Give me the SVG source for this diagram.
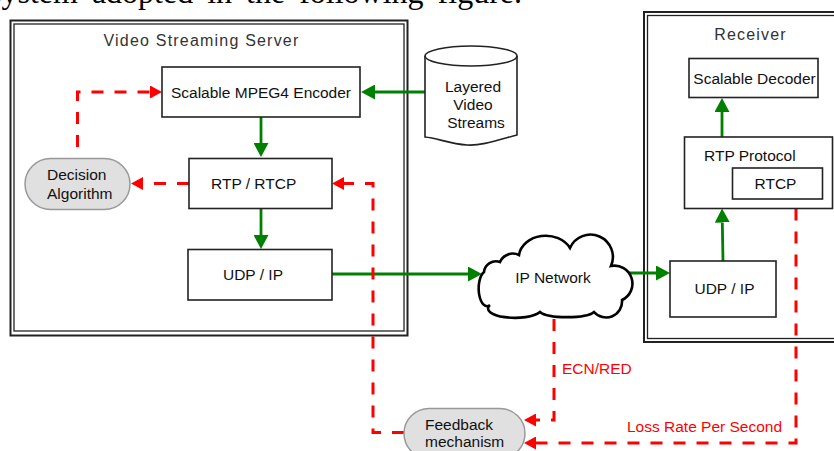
<svg xmlns="http://www.w3.org/2000/svg" width="834" height="451" viewBox="0 0 834 451">
<defs>
<marker id="ga" markerUnits="userSpaceOnUse" markerWidth="15" markerHeight="15" refX="0" refY="7.5" orient="auto"><path d="M0,0 L14,7.5 L0,15 Z" fill="#008000"/></marker>
<marker id="ra" markerUnits="userSpaceOnUse" markerWidth="13" markerHeight="13" refX="0" refY="6.5" orient="auto"><path d="M0,0 L12,6.5 L0,13 Z" fill="#ff0000"/></marker>
</defs>
<style>
.box{fill:#fff;stroke:#222;stroke-width:1.6}
.frameo{fill:none;stroke:#222;stroke-width:2}
.framei{fill:none;stroke:#222;stroke-width:1.3}
.pill{fill:#e0e0e0;stroke:#999;stroke-width:1.5}
.t{font-family:"Liberation Sans",Arial,sans-serif;font-size:15.5px;fill:#111}
.title{font-family:"Liberation Sans",Arial,sans-serif;font-size:16px;letter-spacing:1.2px;fill:#333}
.red{font-family:"Liberation Sans",Arial,sans-serif;font-size:15.5px;fill:#ff0000}
.serif{font-family:"Liberation Serif","Times New Roman",serif;font-size:32px;word-spacing:6px;fill:#000}
.g{stroke:#008000;stroke-width:2.8;fill:none}
.r{stroke:#ff0000;stroke-width:3;fill:none;stroke-dasharray:12 11}
</style>
<rect width="834" height="451" fill="#fff"/>
<text class="serif" x="-11" y="3">system adopted in the following figure.</text>

<g id="server">
<rect class="frameo" x="10.5" y="20.5" width="397" height="315"/>
<rect class="framei" x="14" y="24" width="390" height="307"/>
<text class="title" x="201.5" y="46" text-anchor="middle">Video Streaming Server</text>
</g>
<g id="receiver">
<rect class="frameo" x="644" y="12" width="220" height="330"/>
<rect class="framei" x="647.5" y="15.5" width="220" height="323"/>
<text class="title" x="750.5" y="40" text-anchor="middle">Receiver</text>
</g>

<g id="connectors">
<path class="g" d="M425,92 H375" marker-end="url(#ga)"/>
<path class="g" d="M261,117 V143" marker-end="url(#ga)"/>
<path class="g" d="M261,208 V235" marker-end="url(#ga)"/>
<path class="g" d="M332,274 H468" marker-end="url(#ga)"/>
<path class="g" d="M613,273 H656" marker-end="url(#ga)"/>
<path class="g" d="M723,261 L722.3,222.5" marker-end="url(#ga)"/>
<path class="g" d="M722,137 V112" marker-end="url(#ga)"/>
<path class="r" d="M189,183.5 H143" marker-end="url(#ra)"/>
<path class="r" d="M77.5,147 V92 H150" marker-end="url(#ra)"/>
<path class="r" d="M404,432.5 H373 V183.5 H344" marker-end="url(#ra)"/>
<path class="r" d="M554,319 V420 H536" marker-end="url(#ra)"/>
<path class="r" d="M796,208.5 V443 H536" marker-end="url(#ra)"/>
</g>

<g id="encoder">
<rect class="box" x="162" y="67" width="198" height="50"/>
<text class="t" x="261" y="98" text-anchor="middle">Scalable MPEG4 Encoder</text>
</g>
<g id="rtp-rtcp">
<rect class="box" x="189" y="158.5" width="143" height="50"/>
<text class="t" x="211" y="188.5">RTP / RTCP</text>
</g>
<g id="udp-ip-server">
<rect class="box" x="188" y="249.5" width="144" height="50.5"/>
<text class="t" x="253" y="280" text-anchor="middle">UDP / IP</text>
</g>
<g id="layered-video-streams">
<path d="M425,56 A46,10 0 0 1 517,56 V135 C495,141 480,146 467,145 C450,144 437,138 425,137 Z" fill="#fff" stroke="#222" stroke-width="1.6"/>
<path d="M425,56 A46,10 0 0 0 517,56" fill="none" stroke="#222" stroke-width="1.6"/>
<text class="t" x="473" y="91.5" text-anchor="middle">Layered</text>
<text class="t" x="473" y="109.5" text-anchor="middle">Video</text>
<text class="t" x="476" y="127.5" text-anchor="middle">Streams</text>
</g>
<g id="decision-algorithm">
<rect class="pill" x="25" y="158.5" width="105" height="51" rx="25.5"/>
<text class="t" x="47" y="180">Decision</text>
<text class="t" x="47" y="198.5">Algorithm</text>
</g>
<g id="ip-network">
<path d="M484,272 A12,12 0 0 1 500,262 A14,14 0 0 1 519,255 A27,22 0 0 1 570,248 A22,22 0 0 1 611,266 A18,18 0 0 1 622,300 A16,16 0 0 1 594,312 A28,7 0 0 1 540,312 A26,9 0 0 1 490,305 A8,17 0 0 1 484,272 Z" fill="#fff" stroke="#000" stroke-width="2.6"/>
<text class="t" x="553" y="283" text-anchor="middle">IP Network</text>
</g>
<g id="scalable-decoder">
<rect class="box" x="689" y="58.5" width="129" height="39"/>
<text class="t" x="754.5" y="83.5" text-anchor="middle">Scalable Decoder</text>
</g>
<g id="rtp-protocol">
<rect class="box" x="684.5" y="137" width="148" height="71.5"/>
<text class="t" x="704" y="160.5">RTP Protocol</text>
</g>
<g id="rtcp">
<rect class="box" x="732.5" y="168" width="90" height="31"/>
<text class="t" x="775.5" y="188.5" text-anchor="middle">RTCP</text>
</g>
<g id="udp-ip-receiver">
<rect class="box" x="670" y="261" width="106" height="56"/>
<text class="t" x="724.5" y="294" text-anchor="middle">UDP / IP</text>
</g>
<g id="feedback-mechanism">
<rect class="pill" x="404" y="408.5" width="121" height="50" rx="25"/>
<text class="t" x="425" y="429.5">Feedback</text>
<text class="t" x="425" y="447">mechanism</text>
</g>
<g id="labels">
<text class="red" x="562" y="374">ECN/RED</text>
<text class="red" x="627" y="432">Loss Rate Per Second</text>
</g>
</svg>
